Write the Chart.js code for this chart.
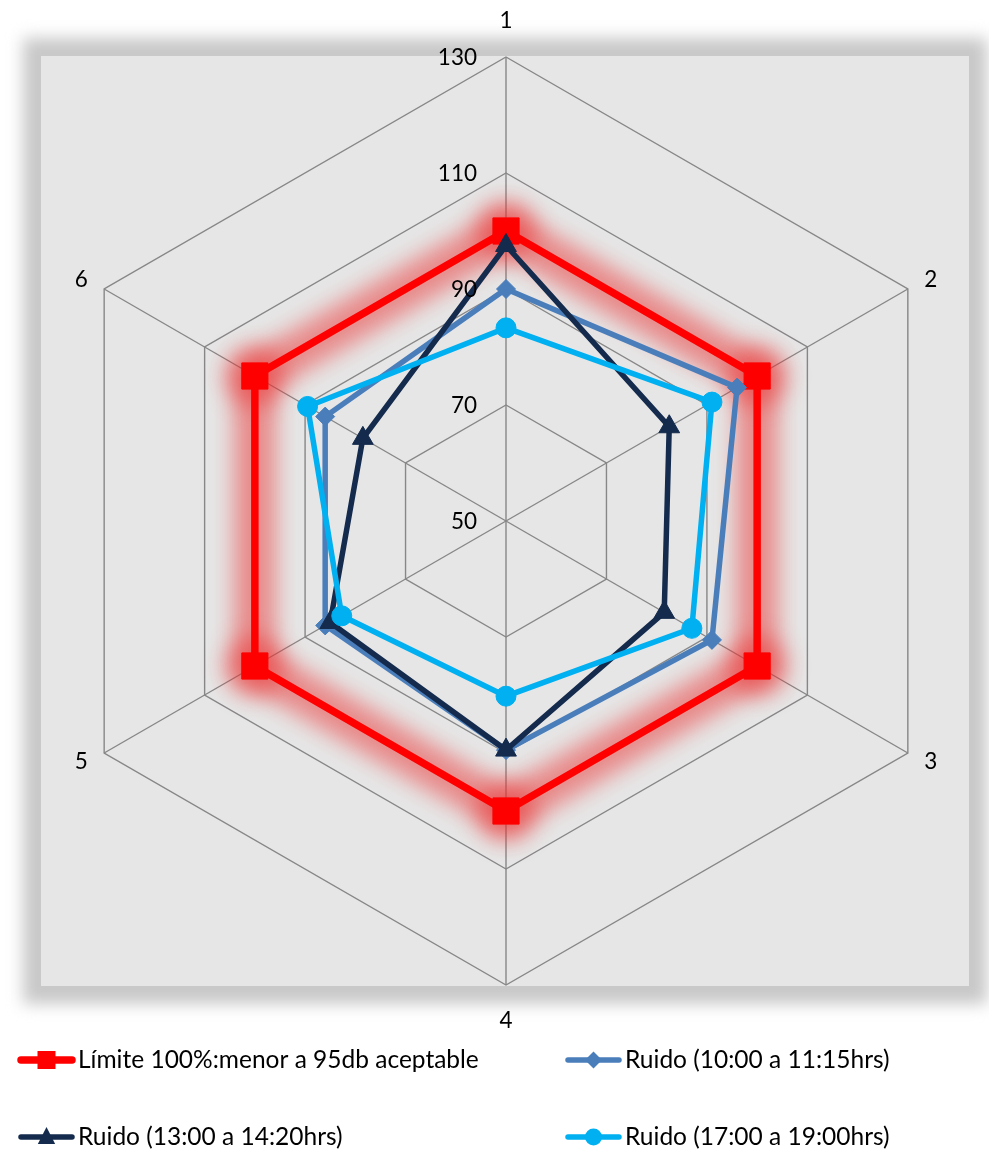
<!DOCTYPE html>
<html>
<head>
<meta charset="utf-8">
<script src="https://cdn.jsdelivr.net/npm/chart.js@4.4.1/dist/chart.umd.min.js"></script>
<style>
  html, body { margin: 0; padding: 0; background: #ffffff; }
  #wrap { width: 989px; height: 1154px; position: relative; }
</style>
</head>
<body>
<div id="wrap"><canvas id="c"></canvas></div>
<script>
// Radar axes and scale ticks
const axisLabels = ['1', '2', '3', '4', '5', '6'];
const tickValues = [50, 70, 90, 110, 130];

// Series values (dB)
const limitValues   = [100, 100, 100, 100, 100, 100];
const noiseMorning  = [90, 96, 91, 89.5, 86, 86];
const noiseMidday   = [97.5, 82.5, 81.5, 89.5, 85, 78.5];
const noiseEvening  = [83.3, 91, 87, 80.2, 82.7, 89.5];

const seriesNames = [
  'Límite 100%:menor a 95db aceptable',
  'Ruido (10:00 a 11:15hrs)',
  'Ruido (13:00 a 14:20hrs)',
  'Ruido (17:00 a 19:00hrs)'
];

const FONT = 'Lato, "Open Sans", sans-serif';

// Grey panel with a soft grey frame behind the radar
const panelPlugin = {
  id: 'panel',
  beforeDraw(chart) {
    const ctx = chart.ctx;
    const a = chart.chartArea;
    ctx.save();
    ctx.fillStyle = '#ffffff';
    ctx.fillRect(0, 0, chart.width, chart.height);
    const px = a.left - 1, py = a.top - 1, pw = a.right - 1 - px, ph = a.bottom + 1 - py;
    ctx.filter = 'blur(8px)';
    ctx.fillStyle = '#c8c8c8';
    ctx.fillRect(px - 18, py - 18, pw + 36, ph + 36);
    ctx.filter = 'none';
    ctx.fillStyle = '#e6e6e6';
    ctx.fillRect(px, py, pw, ph);
    ctx.restore();
  }
};

// Soft red halo behind the limit series, following its plotted points
const glowPlugin = {
  id: 'glow',
  beforeDatasetDraw(chart, args) {
    const ds = chart.data.datasets[args.index];
    if (!ds.glow) return;
    const pts = args.meta.data;
    const ctx = chart.ctx;
    ctx.save();
    ctx.filter = 'blur(11px)';
    ctx.strokeStyle = ds.glow;
    ctx.fillStyle = ds.glow;
    ctx.lineWidth = 42;
    ctx.lineJoin = 'round';
    ctx.beginPath();
    pts.forEach((p, i) => (i ? ctx.lineTo(p.x, p.y) : ctx.moveTo(p.x, p.y)));
    ctx.closePath();
    ctx.stroke();
    pts.forEach(p => {
      ctx.beginPath();
      ctx.arc(p.x, p.y, 30, 0, Math.PI * 2);
      ctx.fill();
    });
    ctx.restore();
  }
};

// Tick values left of the vertical axis and axis numbers outside the web
const labelPlugin = {
  id: 'labels',
  afterDatasetsDraw(chart) {
    const ctx = chart.ctx;
    const s = chart.scales.r;
    ctx.save();
    ctx.fillStyle = '#000000';
    ctx.font = '22.5px ' + FONT;
    ctx.textAlign = 'right';
    ctx.textBaseline = 'middle';
    tickValues.forEach(v => {
      const d = s.getDistanceFromCenterForValue(v);
      ctx.fillText(String(v), s.xCenter - 29, s.yCenter - d + 1);
    });
    ctx.textAlign = 'center';
    axisLabels.forEach((lbl, i) => {
      const p = s.getPointPosition(i, s.drawingArea);
      const ang = i * 2 * Math.PI / axisLabels.length;
      const sx = Math.sin(ang), cy = Math.cos(ang);
      const vertical = Math.abs(sx) < 0.01;
      const dx = sx * 26.5;
      const dy = -cy * (vertical ? 36 : 18);
      ctx.fillText(lbl, p.x + dx, p.y + dy);
    });
    ctx.restore();
  }
};

// Two-column legend under the chart
function drawMarker(ctx, style, x, y, r, color) {
  ctx.fillStyle = color;
  ctx.beginPath();
  if (style === 'rect') {
    ctx.rect(x - r, y - r, 2 * r, 2 * r);
  } else if (style === 'rectRot') {
    ctx.moveTo(x, y - r); ctx.lineTo(x + r, y); ctx.lineTo(x, y + r); ctx.lineTo(x - r, y); ctx.closePath();
  } else if (style === 'triangle') {
    ctx.moveTo(x, y - r);
    ctx.lineTo(x + r * 0.866, y + r * 0.5 + 2);
    ctx.lineTo(x - r * 0.866, y + r * 0.5 + 2);
    ctx.closePath();
  } else {
    ctx.arc(x, y, r, 0, Math.PI * 2);
  }
  ctx.fill();
}

const legendPlugin = {
  id: 'legendGrid',
  afterDraw(chart) {
    const ctx = chart.ctx;
    const cols = [18, 565];
    const rows = [1060, 1137];
    const markerSize = { rect: 9, rectRot: 8.5, triangle: 10, circle: 8.5 };
    ctx.save();
    chart.data.datasets.forEach((ds, i) => {
      const x = cols[i % 2], y = rows[Math.floor(i / 2)];
      ctx.strokeStyle = ds.borderColor;
      ctx.lineWidth = ds.borderWidth;
      ctx.lineCap = 'round';
      ctx.beginPath();
      ctx.moveTo(x + 3, y);
      ctx.lineTo(x + 54, y);
      ctx.stroke();
      drawMarker(ctx, ds.pointStyle, x + 28.5, y, markerSize[ds.pointStyle], ds.borderColor);
      ctx.fillStyle = '#000000';
      ctx.font = '24.5px ' + FONT;
      ctx.textAlign = 'left';
      ctx.textBaseline = 'middle';
      ctx.fillText(ds.label, x + 60, y);
    });
    ctx.restore();
  }
};

function series(label, data, color, width, style, radius, order, extra) {
  return Object.assign({
    label, data, order,
    borderColor: color,
    backgroundColor: color,
    pointBackgroundColor: color,
    pointBorderColor: color,
    borderWidth: width,
    pointStyle: style,
    pointRadius: radius,
    pointBorderWidth: 1,
    fill: false,
    tension: 0
  }, extra || {});
}

new Chart(document.getElementById('c'), {
  type: 'radar',
  data: {
    labels: axisLabels,
    datasets: [
      series(seriesNames[0], limitValues, '#ff0000', 7.5, 'rect', 18.5, 4, { glow: 'rgba(235,45,45,0.5)' }),
      series(seriesNames[1], noiseMorning, '#4a7ebb', 5.5, 'rectRot', 9.5, 3),
      series(seriesNames[2], noiseMidday, '#142b4d', 5.5, 'triangle', 12, 2),
      series(seriesNames[3], noiseEvening, '#00b0f0', 5.5, 'circle', 10, 1)
    ]
  },
  options: {
    responsive: true,
    maintainAspectRatio: false,
    animation: false,
    events: [],
    layout: { padding: { left: 42, right: 19, top: 57, bottom: 169 } },
    plugins: {
      legend: { display: false },
      tooltip: { enabled: false }
    },
    scales: {
      r: {
        min: 50,
        max: 130,
        ticks: { stepSize: 20, display: false },
        pointLabels: { display: false },
        grid: { color: '#878787', lineWidth: 1.4, circular: false },
        angleLines: { color: '#878787', lineWidth: 1.4 }
      }
    }
  },
  plugins: [panelPlugin, glowPlugin, labelPlugin, legendPlugin]
});
</script>
</body>
</html>
